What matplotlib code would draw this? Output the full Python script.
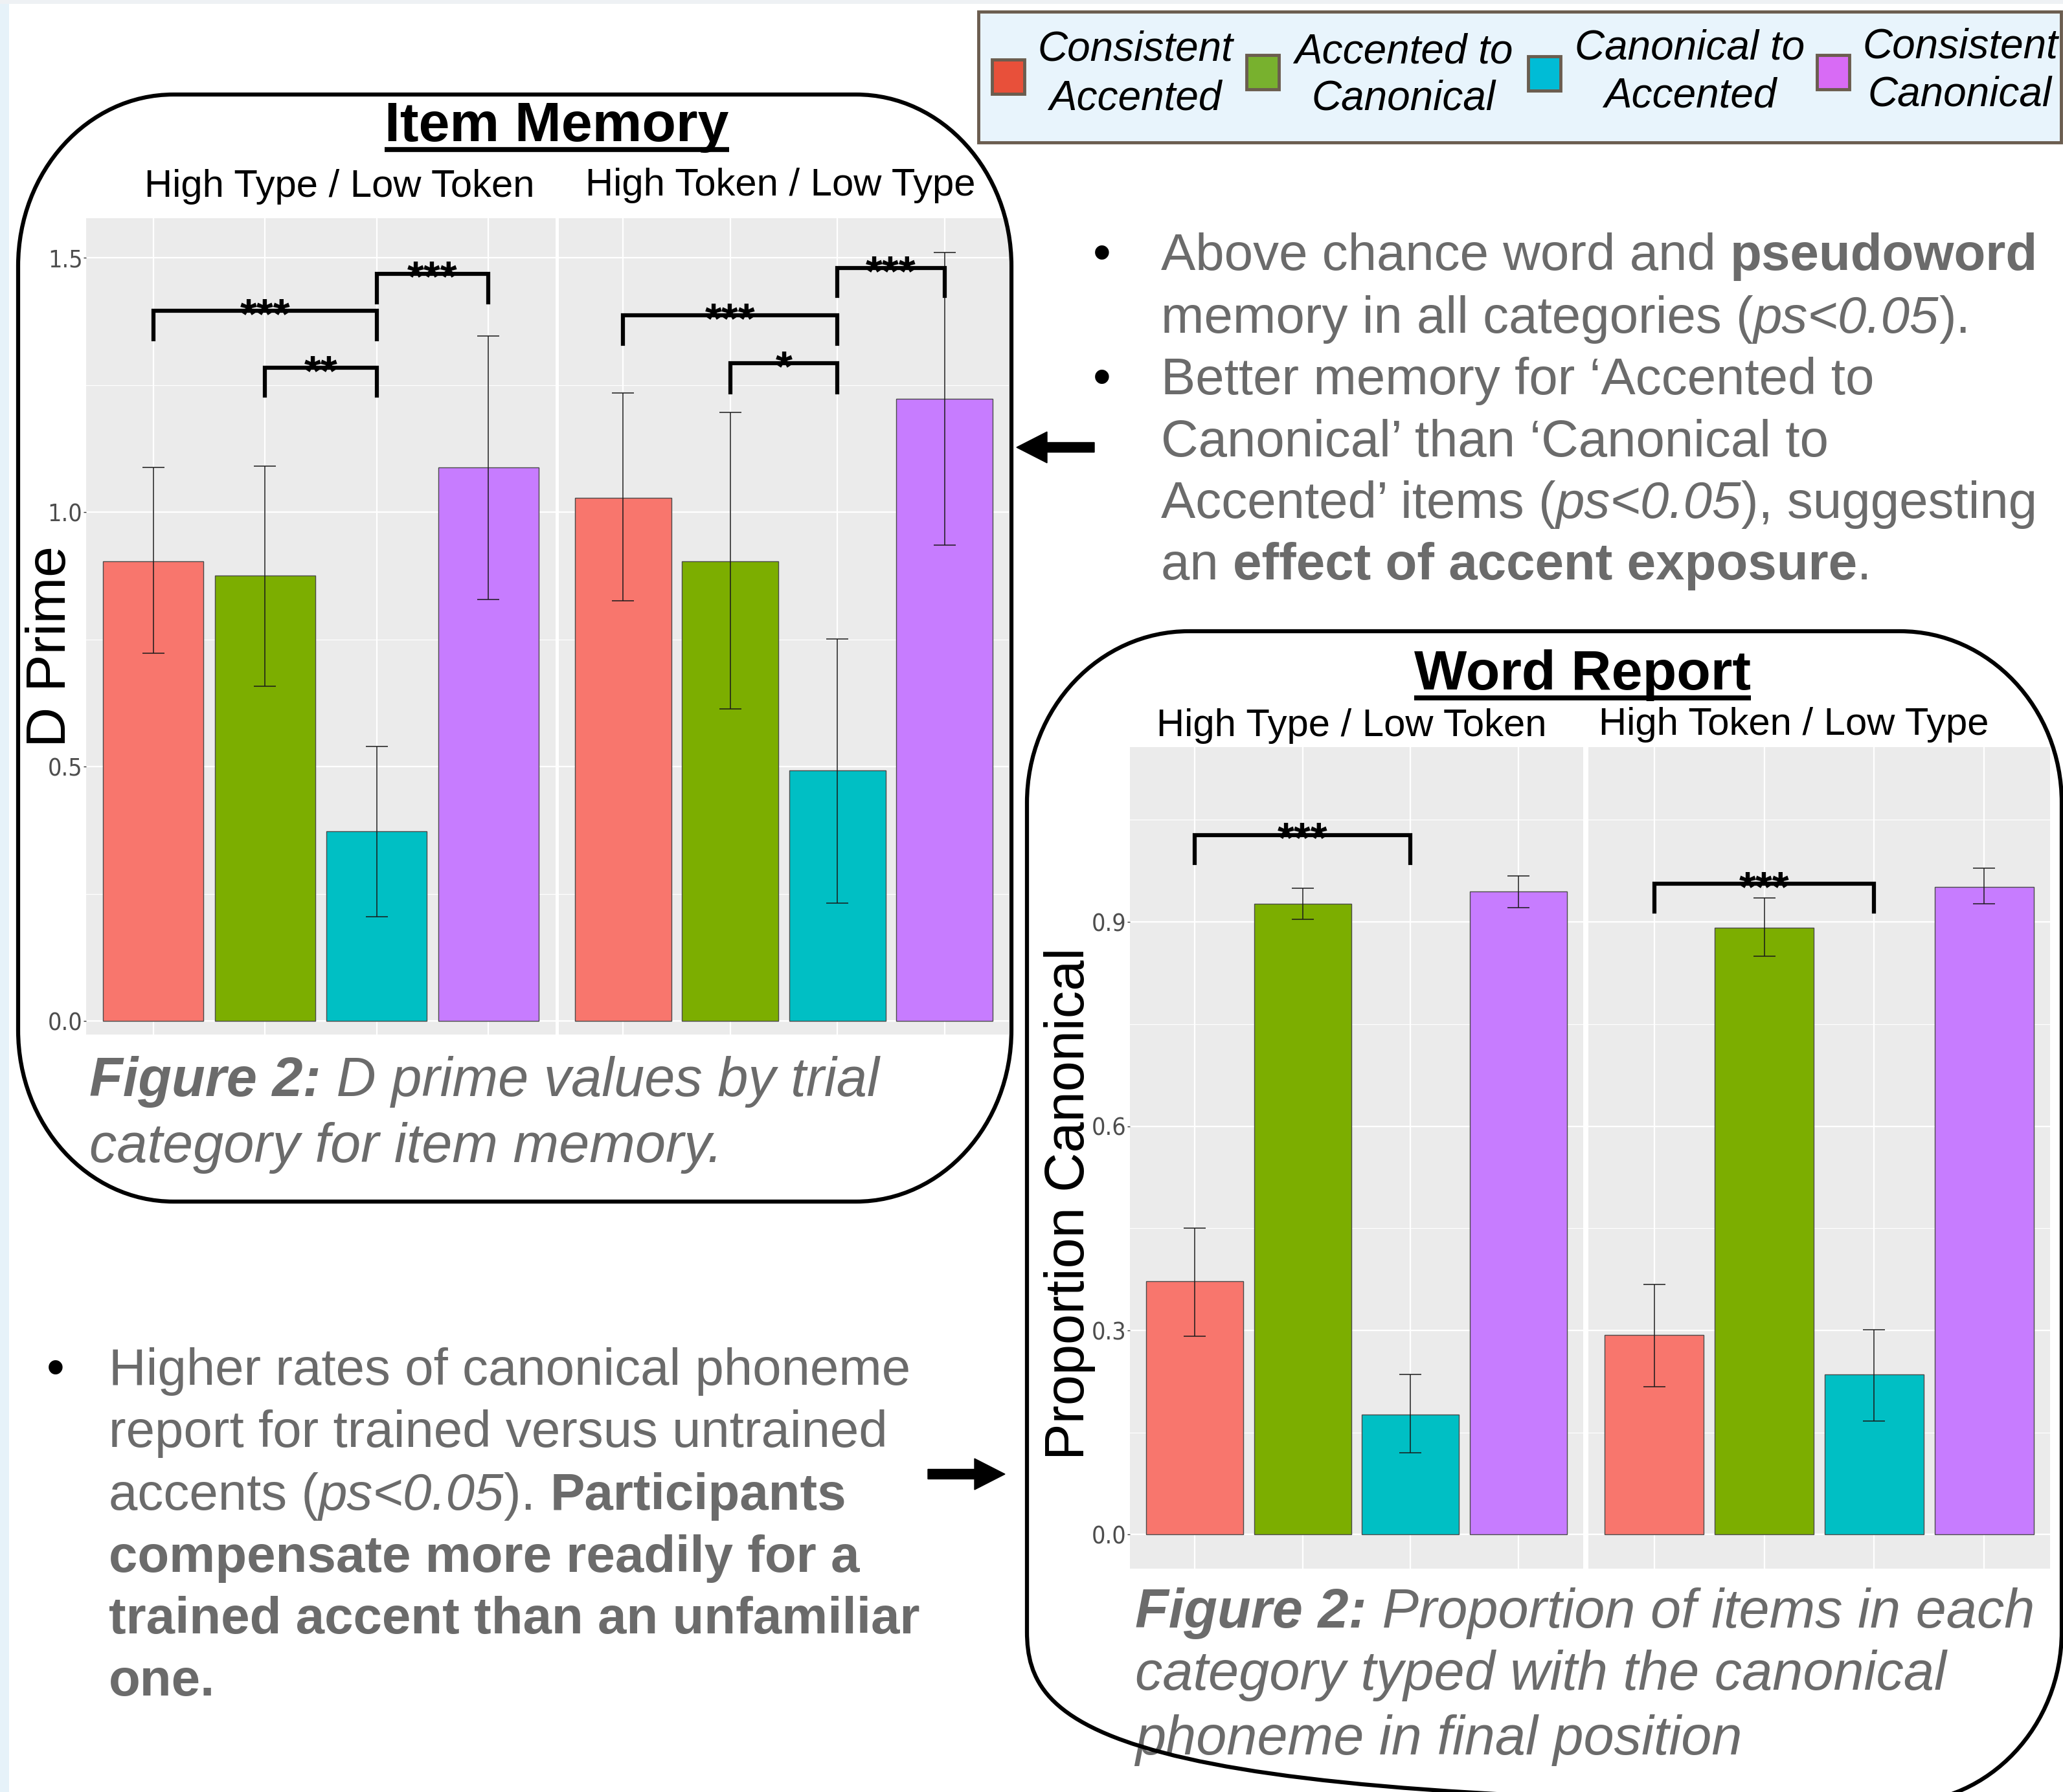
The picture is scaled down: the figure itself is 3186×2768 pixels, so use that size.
import matplotlib
matplotlib.use("Agg")
import matplotlib.pyplot as plt
from matplotlib import font_manager
from matplotlib.path import Path
from matplotlib.patches import PathPatch, Rectangle, FancyArrow

# ---------------- data ----------------
categories = ["Consistent Accented", "Accented to Canonical",
              "Canonical to Accented", "Consistent Canonical"]
legend_labels = [("Consistent", "Accented"), ("Accented to", "Canonical"),
                 ("Canonical to", "Accented"), ("Consistent", "Canonical")]
bar_colors = ["#F8766D", "#7CAE00", "#00BFC4", "#C77CFF"]
legend_colors = ["#E8503A", "#78B12E", "#00BCD6", "#D86BF5"]
facet_labels = ["High Type / Low Token", "High Token / Low Type"]

# Item memory (D prime)
dprime_ht_mean = [0.904, 0.876, 0.373, 1.088]
dprime_ht_low = [0.723, 0.658, 0.205, 0.829]
dprime_ht_high = [1.088, 1.090, 0.539, 1.346]
dprime_hk_mean = [1.028, 0.904, 0.492, 1.223]
dprime_hk_low = [0.826, 0.614, 0.231, 0.935]
dprime_hk_high = [1.234, 1.196, 0.751, 1.511]
# significance brackets: (from category, to category, bar height, leg end, label)
dprime_ht_sig = [(1, 3, 1.396, 1.340, "***"), (2, 3, 1.284, 1.229, "**"),
                 (3, 4, 1.469, 1.413, "***")]
dprime_hk_sig = [(1, 3, 1.387, 1.331, "***"), (2, 3, 1.293, 1.236, "*"),
                 (3, 4, 1.480, 1.425, "***")]
dprime_ticks = [0.0, 0.5, 1.0, 1.5]
dprime_minor = [0.25, 0.75, 1.25]
dprime_ticklabels = ["0.0", "0.5", "1.0", "1.5"]

# Word report (proportion canonical)
report_ht_mean = [0.372, 0.927, 0.176, 0.945]
report_ht_low = [0.291, 0.904, 0.120, 0.921]
report_ht_high = [0.450, 0.950, 0.235, 0.968]
report_hk_mean = [0.293, 0.892, 0.235, 0.952]
report_hk_low = [0.217, 0.850, 0.167, 0.927]
report_hk_high = [0.368, 0.935, 0.301, 0.979]
report_ht_sig = [(1, 3, 1.028, 0.987, "***")]
report_hk_sig = [(1, 3, 0.956, 0.915, "***")]
report_ticks = [0.0, 0.3, 0.6, 0.9]
report_minor = [0.15, 0.45, 0.75, 1.05]
report_ticklabels = ["0.0", "0.3", "0.6", "0.9"]

# ---------------- setup ----------------
W, H = 3186, 2768
DPI = 100
FONT = "Liberation Sans"

# pick a condensed face for the tick labels if one is installed
TICK_KW = dict(family=FONT, fontsize=20)
_cond = []
for f in font_manager.fontManager.ttflist:
    st = f.stretch
    is_cond = (isinstance(st, str) and "condensed" in st) or \
              (isinstance(st, (int, float)) and st < 500) or \
              ("Narrow" in f.name) or ("Condensed" in f.name)
    if is_cond and f.style == "normal" and f.weight in (400, "normal", "regular"):
        _cond.append(f)
if _cond:
    pref = sorted(_cond, key=lambda f: (0 if "Liberation" in f.name else
                                        1 if "DejaVu" in f.name else 2))
    TICK_KW = dict(fname=pref[0].fname, size=27)
TICK_PROP = font_manager.FontProperties(**TICK_KW)

plt.rcParams["font.family"] = [FONT, "DejaVu Sans"]

fig = plt.figure(figsize=(W / DPI, H / DPI), dpi=DPI)
fig.patch.set_facecolor("white")


def fig_rect(x0, y0, x1, y1):
    return [x0 / W, 1 - y1 / H, (x1 - x0) / W, (y1 - y0) / H]


ov = fig.add_axes([0, 0, 1, 1], zorder=10)
ov.set_xlim(0, W)
ov.set_ylim(H, 0)
ov.axis("off")
ov.patch.set_alpha(0)
renderer = fig.canvas.get_renderer()

# background strips
ov.add_patch(Rectangle((0, 0), 14, H, color="#E6F2F9", lw=0, zorder=0))
ov.add_patch(Rectangle((0, 0), W, 6, color="#EEF1F4", lw=0, zorder=0))


def rounded_box(x0, y0, x1, y1, rx, ry, lw=4.5):
    k = 0.5523
    verts = [(x0 + rx, y0), (x1 - rx, y0),
             (x1 - rx + k * rx, y0), (x1, y0 + ry - k * ry), (x1, y0 + ry),
             (x1, y1 - ry),
             (x1, y1 - ry + k * ry), (x1 - rx + k * rx, y1), (x1 - rx, y1),
             (x0 + rx, y1),
             (x0 + rx - k * rx, y1), (x0, y1 - ry + k * ry), (x0, y1 - ry),
             (x0, y0 + ry),
             (x0, y0 + ry - k * ry), (x0 + rx - k * rx, y0), (x0 + rx, y0),
             (x0 + rx, y0)]
    codes = [Path.MOVETO, Path.LINETO,
             Path.CURVE4, Path.CURVE4, Path.CURVE4,
             Path.LINETO,
             Path.CURVE4, Path.CURVE4, Path.CURVE4,
             Path.LINETO,
             Path.CURVE4, Path.CURVE4, Path.CURVE4,
             Path.LINETO,
             Path.CURVE4, Path.CURVE4, Path.CURVE4,
             Path.CLOSEPOLY]
    ov.add_patch(PathPatch(Path(verts, codes), facecolor="none",
                           edgecolor="black", lw=lw, zorder=5))


def text_width(s, **kw):
    t1 = ov.text(0, 0, s + "|", **kw)
    t2 = ov.text(0, 0, "|", **kw)
    w = t1.get_window_extent(renderer).width - t2.get_window_extent(renderer).width
    t1.remove()
    t2.remove()
    return w


def rich_line(x, y, segments, size, color):
    for s, weight, style in segments:
        kw = dict(fontsize=size, fontweight=weight, fontstyle=style,
                  color=color, family=FONT)
        ov.text(x, y, s, ha="left", va="baseline", **kw)
        x += text_width(s, **kw)


def draw_panel(rect, means, lows, highs, sigs, ylim, ticks, minor, ticklabels, show_y):
    ax = fig.add_axes(fig_rect(*rect), zorder=2)
    ax.set_facecolor("#EBEBEB")
    xs = [1, 2, 3, 4]
    ax.set_xlim(0.4, 4.6)
    ax.set_ylim(*ylim)
    for s in ax.spines.values():
        s.set_visible(False)
    ax.set_xticks(xs)
    ax.set_yticks(ticks)
    ax.set_yticks(minor, minor=True)
    ax.grid(which="major", color="white", lw=1.6)
    ax.grid(which="minor", axis="y", color="white", lw=0.8)
    ax.set_axisbelow(True)
    ax.tick_params(axis="x", length=0, labelbottom=False)
    ax.tick_params(axis="y", which="minor", length=0)
    if show_y:
        ax.set_yticklabels(ticklabels, fontproperties=TICK_PROP, color="#4D4D4D")
        ax.tick_params(axis="y", which="major", length=3, width=1,
                       color="#333333", pad=1)
    else:
        ax.tick_params(axis="y", which="major", length=0, labelleft=False)
    ax.bar(xs, means, width=0.9, color=bar_colors, edgecolor="#4A4A4A",
           linewidth=1.0, zorder=2)
    spacing_px = (rect[2] - rect[0]) / 4.2
    yerr = [[m - l for m, l in zip(means, lows)], [h - m for m, h in zip(means, highs)]]
    ax.errorbar(xs, means, yerr=yerr, fmt="none", ecolor="#1A1A1A",
                elinewidth=1.1, capsize=0.1 * spacing_px * 0.72, capthick=1.1,
                zorder=3)
    for i, j, y, tip, lab in sigs:
        ax.plot([i, i, j, j], [tip, y, y, tip], color="black", lw=4.5,
                solid_joinstyle="miter", zorder=4, clip_on=False)
        fs = 48
        ax.annotate(lab, xy=((i + j) / 2, y), xytext=(0, -0.40 * fs),
                    textcoords="offset points", ha="center", va="baseline",
                    fontsize=fs, fontweight="bold", color="black", zorder=5)
    return ax


# ---------------- Item Memory ----------------
dp_ylim = (-0.0267, 1.578)
draw_panel((133, 337, 858, 1598), dprime_ht_mean, dprime_ht_low, dprime_ht_high,
           dprime_ht_sig, dp_ylim, dprime_ticks, dprime_minor, dprime_ticklabels, True)
draw_panel((863, 337, 1558, 1598), dprime_hk_mean, dprime_hk_low, dprime_hk_high,
           dprime_hk_sig, dp_ylim, dprime_ticks, dprime_minor, dprime_ticklabels, False)

rounded_box(28, 146, 1562, 1856, 240, 265)


def underlined_title(cx, baseline, s, uy):
    ov.text(cx, baseline, s, ha="center", va="baseline", fontsize=62,
            fontweight="bold", color="black", family=FONT)
    w = text_width(s, fontsize=62, fontweight="bold", family=FONT)
    ov.plot([cx - w / 2, cx + w / 2], [uy, uy], color="black", lw=5.5,
            solid_capstyle="butt", zorder=6)


underlined_title(860, 218, "Item Memory", 231)
ov.text(524, 304, facet_labels[0], ha="center", va="baseline", fontsize=43, color="black")
ov.text(1205, 302, facet_labels[1], ha="center", va="baseline", fontsize=43, color="black")
ov.text(79, 999, "D Prime", rotation=90, ha="center", va="center", fontsize=62, color="black")

cap_color = "#6B6B6B"
rich_line(138, 1693, [("Figure 2:", "bold", "italic"),
                      (" D prime values by trial", "normal", "italic")], 61, cap_color)
rich_line(138, 1795, [("category for item memory.", "normal", "italic")], 61, cap_color)

# ---------------- Word Report ----------------
wr_ylim = (-0.050, 1.157)
draw_panel((1745, 1154, 2445, 2423), report_ht_mean, report_ht_low, report_ht_high,
           report_ht_sig, wr_ylim, report_ticks, report_minor, report_ticklabels, True)
draw_panel((2453, 1154, 3166, 2423), report_hk_mean, report_hk_low, report_hk_high,
           report_hk_sig, wr_ylim, report_ticks, report_minor, report_ticklabels, False)

rounded_box(1586, 975, 3184, 2785, 250, 265)
underlined_title(2444, 1065, "Word Report", 1078)
ov.text(2087, 1137, facet_labels[0], ha="center", va="baseline", fontsize=43, color="black")
ov.text(2770, 1135, facet_labels[1], ha="center", va="baseline", fontsize=43, color="black")
ov.text(1652, 1859, "Proportion Canonical", rotation=90, ha="center", va="center",
        fontsize=61, color="black")

rich_line(1753, 2514, [("Figure 2:", "bold", "italic"),
                       (" Proportion of items in each", "normal", "italic")], 61, cap_color)
rich_line(1753, 2610, [("category typed with the canonical", "normal", "italic")], 61, cap_color)
rich_line(1753, 2710, [("phoneme in final position", "normal", "italic")], 61, cap_color)

# ---------------- Legend ----------------
ov.add_patch(Rectangle((1511, 18), 3183 - 1511, 220 - 18, facecolor="#E8F4FC",
                       edgecolor="#6B5D4F", lw=3.5, zorder=3))
swatches = [(1532, 92), (1925, 85), (2360, 87), (2806, 85)]
text_cx = [1753, 2168, 2610, 3027]
text_y = [(77, 152), (80, 152), (75, 148), (72, 147)]
for (sx, sy), col, cx, (y1, y2), (l1, l2) in zip(swatches, legend_colors, text_cx,
                                                  text_y, legend_labels):
    ov.add_patch(Rectangle((sx, sy), 50, 53, facecolor=col, edgecolor="#6B5D4F",
                           lw=3.5, zorder=4))
    ov.text(cx, y1, l1, ha="center", va="center", fontsize=46, fontstyle="italic", color="black")
    ov.text(cx, y2, l2, ha="center", va="center", fontsize=46, fontstyle="italic", color="black")

# ---------------- Bullet text ----------------
body = "#6B6B6B"
N, B, I = "normal", "bold", "italic"
tr_lines = [
    [("Above chance word and ", N, N), ("pseudoword", B, N)],
    [("memory in all categories (", N, N), ("ps<0.05", N, I), (").", N, N)],
    [("Better memory for \u2018Accented to", N, N)],
    [("Canonical\u2019 than \u2018Canonical to", N, N)],
    [("Accented\u2019 items (", N, N), ("ps<0.05", N, I), ("), suggesting", N, N)],
    [("an ", N, N), ("effect of accent exposure", B, N), (".", N, N)],
]
tr_base = [417, 514, 609, 705, 800, 895]
for segs, yb in zip(tr_lines, tr_base):
    rich_line(1793, yb, segs, 57.5, body)
for idx in (0, 2):
    ov.text(1688, tr_base[idx], "\u2022", ha="left", va="baseline", fontsize=57, color="black")

bl_lines = [
    [("Higher rates of canonical phoneme", N, N)],
    [("report for trained versus untrained", N, N)],
    [("accents (", N, N), ("ps<0.05", N, I), ("). ", N, N), ("Participants", B, N)],
    [("compensate more readily for a", B, N)],
    [("trained accent than an unfamiliar", B, N)],
    [("one.", B, N)],
]
bl_base = [2139, 2235, 2332, 2428, 2523, 2619]
for segs, yb in zip(bl_lines, bl_base):
    rich_line(168, yb, segs, 57.5, body)
ov.text(72, bl_base[0], "\u2022", ha="left", va="baseline", fontsize=57, color="black")

# ---------------- Arrows ----------------
ov.add_patch(FancyArrow(1690, 691, -120, 0, width=15, head_width=48, head_length=47,
                        length_includes_head=True, color="black", zorder=6))
ov.add_patch(FancyArrow(1433, 2277, 119, 0, width=15, head_width=48, head_length=47,
                        length_includes_head=True, color="black", zorder=6))

fig.savefig("out.png", dpi=DPI)
